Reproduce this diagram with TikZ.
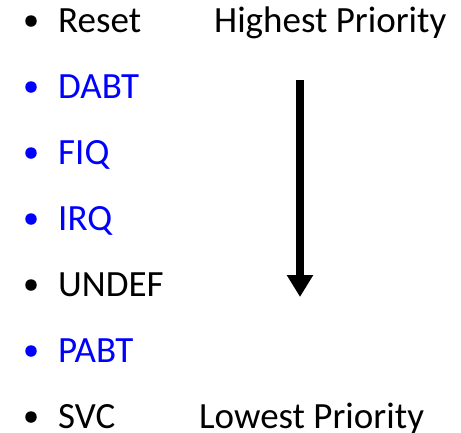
\documentclass[tikz,border=0pt]{standalone}
\usepackage{fontspec}
\setmainfont{Carlito}
\usetikzlibrary{arrows.meta}
\definecolor{itemblue}{RGB}{0,0,255}
\begin{document}
\begin{tikzpicture}[x=1pt,y=-1pt,
  lbl/.style={anchor=base west,inner sep=0pt,font=\fontsize{37}{44}\selectfont},
  dot/.style={circle,fill,inner sep=0pt,minimum size=11.5pt},
  priarrow/.style={line width=8pt,-{Triangle[length=22pt,width=25pt]}}]
\useasboundingbox (0,0) rectangle (461,432);
\foreach \name/\txt/\col [count=\i from 0] in {reset/Reset/black,dabt/DABT/itemblue,fiq/FIQ/itemblue,irq/IRQ/itemblue,undef/UNDEF/black,pabt/PABT/itemblue,svc/SVC/black}{
  \pgfmathsetmacro{\yb}{32+66*\i}
  \node[dot,text=\col,fill=\col] (b\name) at (31,\yb-11) {};
  \node[lbl,text=\col] (\name) at (58,\yb) {\txt};
}
\node[lbl] (high) at (214,32) {Highest Priority};
\node[lbl] (low) at (199,428) {Lowest Priority};
\coordinate (atop) at (300,80);
\coordinate (abot) at (300,297);
\draw[priarrow] (atop) -- (abot);
\end{tikzpicture}
\end{document}
